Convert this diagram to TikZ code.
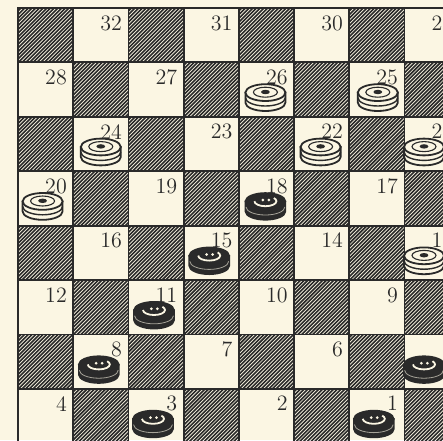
\documentclass[tikz,border=0pt]{standalone}
\definecolor{papel}{HTML}{FBF6E3}
\definecolor{tinta}{HTML}{2A2A2A}
\tikzset{
  casilla/.style={draw=tinta, line width=0.9pt},
  rayado/.style={tinta, line width=0.8pt},
  numero/.style={anchor=north east, inner sep=0pt, text=tinta, font=\fontsize{11}{12}\selectfont},
  pics/fichablanca/.style={code={
    \draw[fill=papel, draw=tinta, line width=0.9pt] (-10pt,2.5pt) -- (-10pt,-2.5pt)
      arc[start angle=180, end angle=360, x radius=10pt, y radius=4.2pt] -- (10pt,2.5pt) -- cycle;
    \draw[tinta, line width=0.7pt] (-10pt,0pt) arc[start angle=180, end angle=360, x radius=10pt, y radius=4.2pt];
    \draw[fill=papel, draw=tinta, line width=0.9pt] (0pt,2.5pt) ellipse[x radius=10pt, y radius=4.2pt];
    \draw[tinta, line width=0.55pt] (0pt,2.7pt) ellipse[x radius=6pt, y radius=2.5pt];
    \fill[tinta] (0pt,2.8pt) ellipse[x radius=2.2pt, y radius=1.1pt];
  }},
  pics/fichanegra/.style={code={
    \draw[fill=tinta, draw=tinta, line width=0.8pt] (-10pt,2.5pt) -- (-10pt,-2.5pt)
      arc[start angle=180, end angle=360, x radius=10pt, y radius=4.2pt] -- (10pt,2.5pt) -- cycle;
    \draw[papel!60!tinta, line width=0.4pt] (-9.7pt,-0.3pt) arc[start angle=180, end angle=360, x radius=9.7pt, y radius=4pt];
    \draw[fill=tinta, draw=tinta, line width=0.8pt] (0pt,2.5pt) ellipse[x radius=10pt, y radius=4.2pt];
    \draw[papel, line width=0.9pt] (-5.5pt,2.6pt) arc[start angle=180, end angle=400, x radius=5.5pt, y radius=2.5pt];
    \fill[papel] (-1.3pt,3.2pt) circle (0.75pt) (1.7pt,3.2pt) circle (0.75pt);
  }},
}
\begin{document}
\begin{tikzpicture}[x=27.6pt, y=-27.2pt]
  \useasboundingbox[fill=papel] (-0.326,-0.147) rectangle (7.699,7.941);
  \clip (-0.326,-0.147) rectangle (7.699,7.941);

  % casillas y numeros
  \foreach \r in {1,...,8} {
    \foreach \c in {1,...,8} {
      \pgfmathtruncatemacro{\paridad}{mod(\r+\c,2)}
      \ifnum\paridad=0
        \begin{scope}
          \clip (\c-1,\r-1) rectangle (\c,\r);
          \foreach \k in {-15,...,15}
            \draw[rayado] ([xshift=\k*1.85pt]\c-0.5,\r-0.5) ++(-16pt,-16pt) -- ++(32pt,32pt);
        \end{scope}
        \draw[casilla] (\c-1,\r-1) rectangle (\c,\r);
      \else
        \draw[casilla] (\c-1,\r-1) rectangle (\c,\r);
        \pgfmathtruncatemacro{\num}{33-4*(\r-1)-ceil(\c/2)}
        \node[numero] (n\num) at ([xshift=-3pt,yshift=-3.5pt]\c,\r-1) {\num};
      \fi
    }
  }

  % borde del tablero
  \draw[tinta, line width=1.4pt] (0,0) rectangle (8,8);

  % fichas blancas
  \foreach \c/\r/\dx in {5/2/-0.5, 7/2/0.5, 2/3/0, 6/3/-0.5, 8/3/-4, 1/4/-1.5, 8/5/-4}
    \pic at ([xshift=\dx pt,yshift=-4pt]\c-0.5,\r-0.5) {fichablanca};

  % fichas negras
  \foreach \c/\r/\dx in {5/4/-0.5, 4/5/-1, 3/6/-1, 2/7/-1, 8/7/-4, 3/8/-1.5, 7/8/-1.5}
    \pic at ([xshift=\dx pt,yshift=-4pt]\c-0.5,\r-0.5) {fichanegra};
\end{tikzpicture}
\end{document}
